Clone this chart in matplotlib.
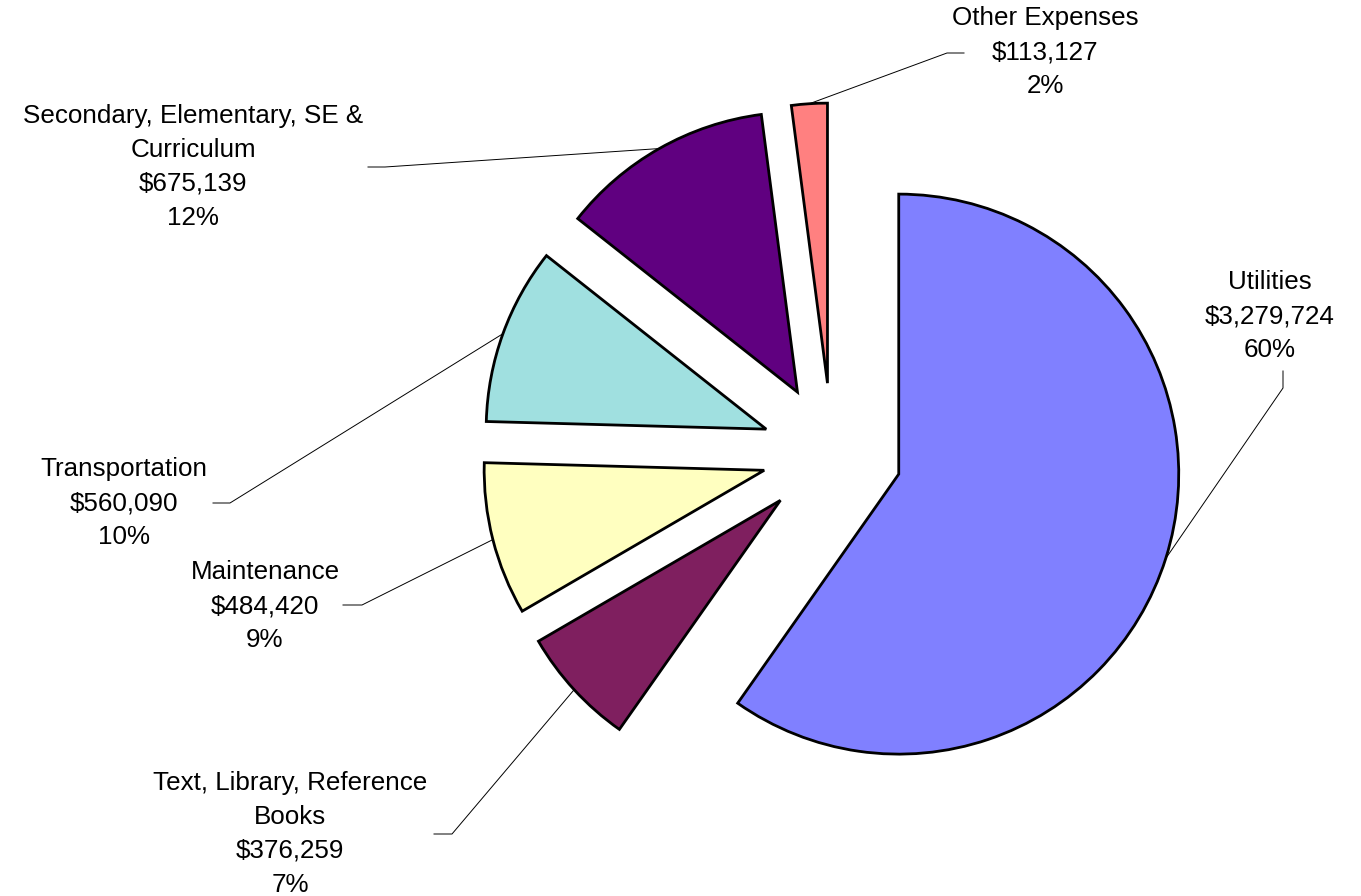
import numpy as np
import matplotlib.pyplot as plt

plt.rcParams['font.family'] = ['Liberation Sans', 'DejaVu Sans']

# Datos del gráfico (en el sentido de las agujas del reloj desde arriba)
categorias = ['Utilities',
              'Text, Library, Reference\nBooks',
              'Maintenance',
              'Transportation',
              'Secondary, Elementary, SE &\nCurriculum',
              'Other Expenses']
montos = [3279724, 376259, 484420, 560090, 675139, 113127]
colores = ['#8080FF', '#7F1F5F', '#FFFFC0', '#A0E0E0', '#600080', '#FF8080']

# Posición de cada etiqueta (píxeles de imagen): texto, codo y final de la guía
pos_texto = [(1270, 316), (290, 834), (265, 606), (124, 503), (193, 167), (1045, 52)]
pos_codo = [(1283, 388), (452, 834), (362, 605), (230, 503), (385, 167), (947, 53)]
pos_fin = [(1283, 371), (434, 834), (343, 605), (213, 503), (368, 167), (964, 53)]

W, H = 1361, 896
radio = 280
# en matplotlib el desplazamiento va en unidades de datos
separacion = 0.25 * radio

fig = plt.figure(figsize=(W / 100, H / 100), dpi=100)
ax = fig.add_axes([0, 0, 1, 1])

wedges, _ = ax.pie(montos, colors=colores, explode=[separacion] * len(montos),
                   startangle=90, counterclock=False,
                   center=(832, H - 453), radius=radio,
                   wedgeprops=dict(edgecolor='black', linewidth=2.0))

total = sum(montos)
for w, nombre, v, pt, pc, pf in zip(wedges, categorias, montos,
                                    pos_texto, pos_codo, pos_fin):
    ang = np.deg2rad((w.theta1 + w.theta2) / 2)
    cx, cy = w.center
    x0 = cx + w.r * np.cos(ang)
    y0 = cy + w.r * np.sin(ang)
    ax.plot([x0, pc[0], pf[0]], [y0, H - pc[1], H - pf[1]],
            color='black', lw=0.7, zorder=3)
    etiqueta = '{}\n${:,}\n{:.0f}%'.format(nombre, v, v / total * 100)
    ax.text(pt[0], H - pt[1], etiqueta, ha='center', va='center',
            multialignment='center', fontsize=18.7, linespacing=1.52)

ax.set_xlim(0, W)
ax.set_ylim(0, H)
ax.axis('off')

fig.savefig('out.png', dpi=100, facecolor='white')
